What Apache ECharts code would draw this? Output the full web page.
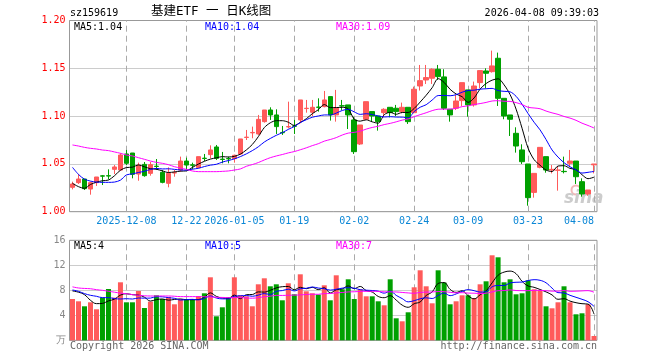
<!DOCTYPE html>
<html>
<head>
<meta charset="utf-8">
<script src="https://cdn.jsdelivr.net/npm/echarts@6/dist/echarts.min.js"></script>
<style>html,body{margin:0;padding:0;background:#fff;}#main{width:660px;height:360px;}</style>
</head>
<body>
<div id="main"></div>
<script>
// ---- data ----
const dates = ['2025-11-25','2025-11-26','2025-11-27','2025-11-28','2025-12-01','2025-12-02','2025-12-03','2025-12-04','2025-12-05','2025-12-08',
'2025-12-09','2025-12-10','2025-12-11','2025-12-12','2025-12-15','2025-12-16','2025-12-17','2025-12-18','2025-12-19','2025-12-22',
'2025-12-23','2025-12-24','2025-12-25','2025-12-26','2025-12-29','2025-12-30','2025-12-31','2026-01-05','2026-01-06','2026-01-07',
'2026-01-08','2026-01-09','2026-01-12','2026-01-13','2026-01-14','2026-01-15','2026-01-16','2026-01-19','2026-01-20','2026-01-21',
'2026-01-22','2026-01-23','2026-01-26','2026-01-27','2026-01-28','2026-01-29','2026-01-30','2026-02-02','2026-02-03','2026-02-04',
'2026-02-05','2026-02-06','2026-02-09','2026-02-10','2026-02-11','2026-02-12','2026-02-13','2026-02-24','2026-02-25','2026-02-26',
'2026-02-27','2026-03-02','2026-03-03','2026-03-04','2026-03-05','2026-03-06','2026-03-09','2026-03-10','2026-03-11','2026-03-12',
'2026-03-13','2026-03-16','2026-03-17','2026-03-18','2026-03-19','2026-03-20','2026-03-23','2026-03-24','2026-03-25','2026-03-26',
'2026-03-27','2026-03-30','2026-03-31','2026-04-01','2026-04-02','2026-04-03','2026-04-07','2026-04-08'];

const openP = [1.0255,1.0304,1.0342,1.0237,1.0304,1.0375,1.0377,1.0443,1.0436,1.0604,
1.0614,1.0394,1.0495,1.0401,1.0476,1.0412,1.0297,1.0405,1.0436,1.0530,
1.0490,1.0461,1.0560,1.0597,1.0677,1.0550,1.0556,1.0555,1.0604,1.0776,
1.0825,1.0813,1.0942,1.1064,1.1012,1.0829,1.0887,1.0897,1.0960,1.1079,
1.1040,1.1094,1.1099,1.1204,1.1012,1.1108,1.1117,1.0960,1.0708,1.0967,
1.1047,1.1001,1.1036,1.1092,1.1082,1.1047,1.1092,1.1036,1.1315,1.1378,
1.1396,1.1490,1.1410,1.1071,1.1082,1.1162,1.1274,1.1117,1.1350,1.1472,
1.1465,1.1605,1.1186,1.1012,1.0820,1.0646,1.0499,1.0202,1.0464,1.0576,
1.0436,1.0433,1.0422,1.0506,1.0530,1.0314,1.0185,1.0490];
const closeP = [1.0290,1.0342,1.0241,1.0304,1.0363,1.0372,1.0373,1.0468,1.0593,1.0506,
1.0391,1.0485,1.0377,1.0492,1.0473,1.0307,1.0401,1.0408,1.0530,1.0488,
1.0486,1.0576,1.0556,1.0646,1.0558,1.0546,1.0553,1.0590,1.0761,1.0780,
1.0829,1.0966,1.1064,1.1012,1.0890,1.0826,1.0890,1.0894,1.1169,1.1082,
1.1092,1.1092,1.1169,1.1012,1.1082,1.1106,1.1012,1.0628,1.0907,1.1151,
1.1001,1.0942,1.1071,1.1036,1.1047,1.1092,1.0942,1.1281,1.1371,1.1403,
1.1490,1.1413,1.1082,1.1012,1.1158,1.1350,1.1117,1.1315,1.1476,1.1448,
1.1525,1.1186,1.1001,1.0967,1.0687,1.0523,1.0147,1.0401,1.0673,1.0436,
1.0443,1.0436,1.0419,1.0530,1.0366,1.0185,1.0227,1.0499];
const highP = [1.0314,1.0394,1.0342,1.0314,1.0363,1.0384,1.0443,1.0488,1.0611,1.0646,
1.0614,1.0513,1.0520,1.0520,1.0551,1.0436,1.0464,1.0436,1.0576,1.0565,
1.0513,1.0576,1.0604,1.0694,1.0698,1.0625,1.0576,1.0597,1.0761,1.0855,
1.0890,1.1012,1.1064,1.1092,1.1071,1.0897,1.1151,1.0960,1.1169,1.1169,
1.1169,1.1186,1.1263,1.1204,1.1274,1.1169,1.1117,1.0994,1.0907,1.1151,
1.1047,1.1001,1.1082,1.1092,1.1117,1.1141,1.1092,1.1308,1.1535,1.1535,
1.1500,1.1535,1.1490,1.1071,1.1221,1.1350,1.1274,1.1361,1.1476,1.1500,
1.1685,1.1664,1.1186,1.1012,1.0883,1.0705,1.0499,1.0401,1.0673,1.0576,
1.0488,1.0478,1.0576,1.0646,1.0530,1.0349,1.0227,1.0499];
const lowP = [1.0234,1.0290,1.0227,1.0178,1.0269,1.0279,1.0338,1.0394,1.0426,1.0488,
1.0349,1.0324,1.0366,1.0377,1.0436,1.0297,1.0255,1.0366,1.0419,1.0443,
1.0443,1.0454,1.0530,1.0558,1.0541,1.0506,1.0506,1.0513,1.0593,1.0750,
1.0768,1.0803,1.0932,1.0960,1.0813,1.0803,1.0872,1.0813,1.0925,1.1036,
1.1001,1.1047,1.1092,1.0953,1.0942,1.1064,1.0865,1.0604,1.0698,1.0960,
1.0942,1.0848,1.0987,1.0987,1.1001,1.1029,1.0918,1.1029,1.1267,1.1336,
1.1336,1.1378,1.1064,1.0942,1.1064,1.1106,1.0994,1.1099,1.1291,1.1291,
1.1455,1.1106,1.0967,1.0792,1.0618,1.0499,1.0063,1.0147,1.0454,1.0408,
1.0401,1.0220,1.0401,1.0471,1.0290,1.0157,1.0167,1.0401];
const volume = [6.61,6.24,5.44,6.08,4.96,6.83,8.21,6.83,9.28,6.08,
6.08,7.89,5.17,6.19,7.20,6.61,6.93,5.76,6.56,6.61,
6.61,7.09,7.52,10.08,3.84,5.28,6.88,10.08,7.20,7.04,
5.44,8.96,9.92,8.64,8.96,6.40,9.12,7.36,10.56,7.84,
7.52,7.31,8.80,6.40,10.40,8.16,9.76,6.61,8.16,7.04,
7.04,6.24,5.60,9.76,3.52,3.04,4.48,8.48,11.20,8.64,
5.92,11.20,9.23,5.76,6.24,7.20,7.20,6.77,8.96,9.44,
13.60,13.28,9.28,9.76,7.36,7.52,9.60,8.16,8.00,5.44,
5.12,6.08,8.64,6.08,4.16,4.32,5.76,0.69];

// moving-average values at the left edge (their history lies outside the picture)
const ma5Head = [1.0297,1.0262,1.0245,1.0285];
const ma10Head = [1.0464,1.0390,1.0340,1.0320,1.0310,1.0307,1.0307,1.0310,1.0330];
const ma30Head = [1.0698,1.0687,1.0673,1.0663,1.0656,1.0645,1.0639,1.0625,1.0611,1.0593,
1.0583,1.0565,1.0548,1.0530,1.0516,1.0506,1.0492,1.0471,1.0457,1.0443,
1.0426,1.0419,1.0419,1.0419,1.0419,1.0422,1.0426,1.0436,1.0447];
const vma5Head = [7.9,7.7,7.3,6.4];
const vma10Head = [8.05,7.84,7.47,7.2,7.04,6.83,6.83,6.67,6.61];
const vma30Head = [8.55,8.37,8.30,8.25,8.10,8.00,7.85,7.70,7.55,7.45,
7.31,7.20,7.12,7.09,7.09,7.09,7.09,7.05,6.99,6.99,
6.99,6.99,6.97,6.93,6.88,6.86,6.83,6.83,6.83];

const tickDates = ['2025-12-08','2025-12-22','2026-01-05','2026-01-19','2026-02-02','2026-02-24','2026-03-09','2026-03-23','2026-04-08'];
const tickLabels = ['2025-12-08','12-22','2026-01-05','01-19','02-02','02-24','03-09','03-23','04-08'];
const priceTicks = [1.00,1.05,1.10,1.15,1.20];
const volTicks = [0,4,8,12,16];

const headerTexts = {code:'sz159619', title:'基建ETF 一 日K线图', time:'2026-04-08 09:39:03'};
const maLabels = ['MA5:1.04','MA10:1.04','MA30:1.09'];
const volMaLabels = ['MA5:4','MA10:5','MA30:7'];

// ---- build ----
function movingAvg(vals, n, head) {
  return vals.map((v, i) => {
    if (i < n - 1) return head[i];
    let s = 0;
    for (let k = i - n + 1; k <= i; k++) s += vals[k];
    return +(s / n).toFixed(4);
  });
}
const RED = '#ff5a5a', GREEN = '#00a000';
const MONO = '"DejaVu Sans Mono", "Liberation Mono", monospace';
const kData = dates.map((d, i) => [openP[i], closeP[i], lowP[i], highP[i]]);
const volData = volume.map((v, i) => ({value: v, itemStyle: {color: closeP[i] >= openP[i] ? RED : GREEN}}));
const vLines = tickDates.map(d => ({xAxis: d}));

const chart = echarts.init(document.getElementById('main'), null, {renderer: 'canvas', width: 660, height: 360});
const G0 = {left: 69.5, width: 527.5, top: 20.5, height: 191.2};
const G1 = {left: 69.5, width: 527.5, top: 240.3, height: 100};
const markCommon = {
  silent: true, symbol: ['none', 'none'], z: 1,
  label: {show: false},
  lineStyle: {color: '#aaaaaa', type: [6, 4], width: 1},
  emphasis: {disabled: true},
  data: vLines
};

chart.setOption({
  animation: false,
  backgroundColor: '#ffffff',
  grid: [
    Object.assign({show: true, borderColor: '#999999', borderWidth: 1}, G0),
    Object.assign({show: true, borderColor: '#999999', borderWidth: 1}, G1)
  ],
  xAxis: [
    {type: 'category', gridIndex: 0, data: dates, boundaryGap: true,
     axisLine: {show: false}, axisTick: {show: false}, splitLine: {show: false},
     axisLabel: {show: true, interval: (idx, val) => tickDates.indexOf(val) >= 0,
       formatter: val => { const k = tickDates.indexOf(val); return k >= 0 ? tickLabels[k] : ''; },
       color: '#0b87d6', fontSize: 10, fontFamily: MONO, margin: 5, alignMaxLabel: 'right'}},
    {type: 'category', gridIndex: 1, data: dates, boundaryGap: true,
     axisLine: {show: false}, axisTick: {show: false}, splitLine: {show: false}, axisLabel: {show: false}}
  ],
  yAxis: [
    {type: 'value', gridIndex: 0, min: priceTicks[0], max: priceTicks[priceTicks.length - 1], interval: 0.05,
     axisLine: {show: false}, axisTick: {show: false},
     axisLabel: {color: '#ff0000', fontSize: 10, fontFamily: MONO, margin: 4, formatter: v => v.toFixed(2)},
     splitLine: {show: true, lineStyle: {color: '#999999', type: [1, 1], width: 1}}},
    {type: 'value', gridIndex: 1, min: volTicks[0], max: volTicks[volTicks.length - 1], interval: 4,
     axisLine: {show: false}, axisTick: {show: false},
     axisLabel: {color: '#888888', fontSize: 10, fontFamily: MONO, margin: 4, formatter: v => v === 0 ? '万' : String(v)},
     splitLine: {show: true, lineStyle: {color: '#999999', type: [1, 1], width: 1}}}
  ],
  series: [
    {type: 'candlestick', xAxisIndex: 0, yAxisIndex: 0, data: kData, barWidth: 5, z: 3,
     itemStyle: {color: RED, color0: GREEN, borderColor: RED, borderColor0: GREEN, borderWidth: 1},
     markLine: markCommon},
    {type: 'line', xAxisIndex: 0, yAxisIndex: 0, data: movingAvg(closeP, 5, ma5Head), showSymbol: false, smooth: 0.3, z: 4,
     lineStyle: {color: '#000000', width: 1}, itemStyle: {color: '#000000'}},
    {type: 'line', xAxisIndex: 0, yAxisIndex: 0, data: movingAvg(closeP, 10, ma10Head), showSymbol: false, smooth: 0.3, z: 4,
     lineStyle: {color: '#0000ff', width: 1}, itemStyle: {color: '#0000ff'}},
    {type: 'line', xAxisIndex: 0, yAxisIndex: 0, data: movingAvg(closeP, 30, ma30Head), showSymbol: false, smooth: 0.3, z: 4,
     lineStyle: {color: '#ff00ff', width: 1}, itemStyle: {color: '#ff00ff'}},
    {type: 'bar', xAxisIndex: 1, yAxisIndex: 1, data: volData, barWidth: 5, z: 3, markLine: markCommon},
    {type: 'line', xAxisIndex: 1, yAxisIndex: 1, data: movingAvg(volume, 5, vma5Head), showSymbol: false, smooth: 0.4, z: 4,
     lineStyle: {color: '#000000', width: 1}, itemStyle: {color: '#000000'}},
    {type: 'line', xAxisIndex: 1, yAxisIndex: 1, data: movingAvg(volume, 10, vma10Head), showSymbol: false, smooth: 0.4, z: 4,
     lineStyle: {color: '#0000ff', width: 1}, itemStyle: {color: '#0000ff'}},
    {type: 'line', xAxisIndex: 1, yAxisIndex: 1, data: movingAvg(volume, 30, vma30Head), showSymbol: false, smooth: 0.4, z: 4,
     lineStyle: {color: '#ff00ff', width: 1}, itemStyle: {color: '#ff00ff'}}
  ],
  graphic: [
    {type: 'text', left: 70, top: 8, style: {text: headerTexts.code, fill: '#000', font: '10px ' + MONO}},
    {type: 'text', left: 151, top: 5, style: {text: headerTexts.title, fill: '#000', font: '12.5px "DejaVu Sans Mono", "Noto Sans CJK SC", sans-serif'}},
    {type: 'text', right: 61, top: 8, style: {text: headerTexts.time, fill: '#000', font: '10px ' + MONO}},
    {type: 'text', left: 74, top: 22, z: 10, style: {text: maLabels[0], fill: '#000000', font: '10px ' + MONO}},
    {type: 'text', left: 205, top: 22, z: 10, style: {text: maLabels[1], fill: '#0000ff', font: '10px ' + MONO}},
    {type: 'text', left: 336, top: 22, z: 10, style: {text: maLabels[2], fill: '#ff00ff', font: '10px ' + MONO}},
    {type: 'text', left: 74, top: 241, z: 10, style: {text: volMaLabels[0], fill: '#000000', font: '10px ' + MONO}},
    {type: 'text', left: 205, top: 241, z: 10, style: {text: volMaLabels[1], fill: '#0000ff', font: '10px ' + MONO}},
    {type: 'text', left: 336, top: 241, z: 10, style: {text: volMaLabels[2], fill: '#ff00ff', font: '10px ' + MONO}},
    {type: 'text', left: 70, top: 341, style: {text: 'Copyright 2026 SINA.COM', fill: '#666666', font: '10px ' + MONO}},
    {type: 'text', right: 63, top: 341, style: {text: 'http://finance.sina.com.cn', fill: '#666666', font: '10px ' + MONO}},
    {type: 'circle', shape: {cx: 576, cy: 190, r: 4.5}, z: 0, style: {fill: 'none', stroke: '#f2b8b8', lineWidth: 2}},
    {type: 'text', left: 564, top: 190, z: 0, style: {text: 'sina', fill: '#cccccc', font: 'italic bold 17px "DejaVu Sans", sans-serif'}}
  ]
});
</script>
</body>
</html>
